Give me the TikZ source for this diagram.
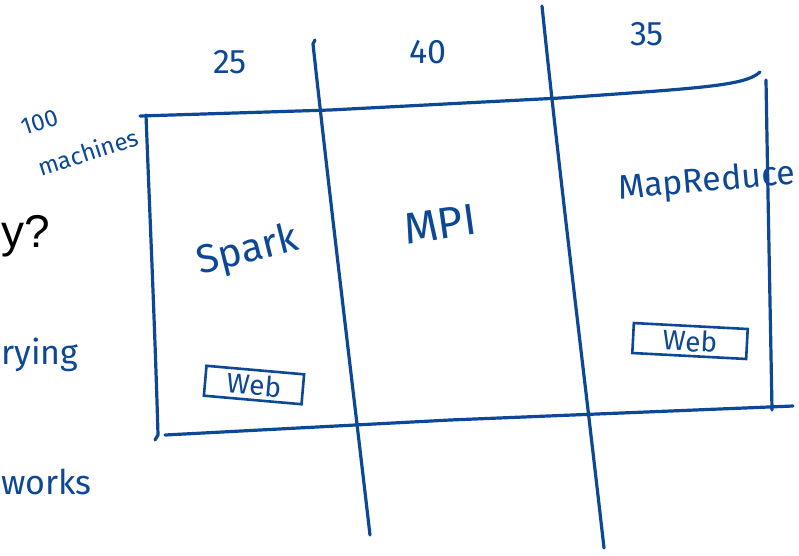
\documentclass[tikz,border=0pt]{standalone}
\usepackage{fontspec}
\setmainfont{Fira Sans}
\newfontfamily\plainsans{Liberation Sans}
\begin{document}
\begin{tikzpicture}[x=1pt,y=-1pt,
  ink/.style={draw=inkblue,line width=3.2pt,line cap=round,line join=round},
  hand/.style={text=inkblue,font=\fontsize{34}{36}\selectfont,inner sep=0pt},
  big/.style={text=inkblue,font=\fontsize{40}{40}\selectfont,inner sep=0pt},
  small/.style={text=inkblue,font=\fontsize{24}{24}\selectfont,inner sep=0pt},
  webbox/.style={draw=inkblue,line width=2.6pt,text=inkblue,font=\fontsize{28}{28}\selectfont,minimum height=30pt,inner ysep=1pt}]
\definecolor{inkblue}{RGB}{12,72,150}
\useasboundingbox (0,0) rectangle (799,555);

% cluster outline
\draw[ink] (140,116) -- (330,110) -- (560,98) .. controls (700,88) and (745,86) .. (760,72);
\draw[ink] (766,80) .. controls (768,200) and (770,300) .. (772,410);
\draw[ink] (146,115) .. controls (150,220) and (155,330) .. (158,435) -- (155,440);
\draw[ink] (165,435) -- (450,420) -- (793,406);

% partition dividers
\draw[ink] (315,40) -- (313,44) .. controls (330,200) and (352,380) .. (370,535);
\draw[ink] (542,6) .. controls (560,180) and (585,380) .. (604,548);

% shares per framework
\node[hand] (n25) at (230,62) {25};
\node[hand] (n40) at (428,52) {40};
\node[hand] (n35) at (647,34) {35};
\node[small,rotate=18] (hundred) at (40,122) {100};
\node[small,rotate=18] (mach) at (88,152) {machines};

% frameworks
\node[big,rotate=14] (spark) at (248,252) {Spark};
\node[big,rotate=8,font=\fontsize{44}{44}\selectfont] (mpi) at (440,224) {MPI};
\node[hand,rotate=5,anchor=west] (mr) at (618,190) {MapReduce};

% web services
\node[webbox,rotate=-5,minimum width=98pt] (web1) at (254,385) {Web};
\node[webbox,rotate=-3,minimum width=114pt] (web2) at (690,341) {Web};

% text running in from the left edge
\node[text=black,font=\plainsans\fontsize{46}{46}\selectfont,anchor=west,inner sep=0pt] (q) at (1,236) {y?};
\node[hand,anchor=west] (rying) at (1,355) {rying};
\node[hand,anchor=west] (works) at (1,482) {works};
\end{tikzpicture}
\end{document}
